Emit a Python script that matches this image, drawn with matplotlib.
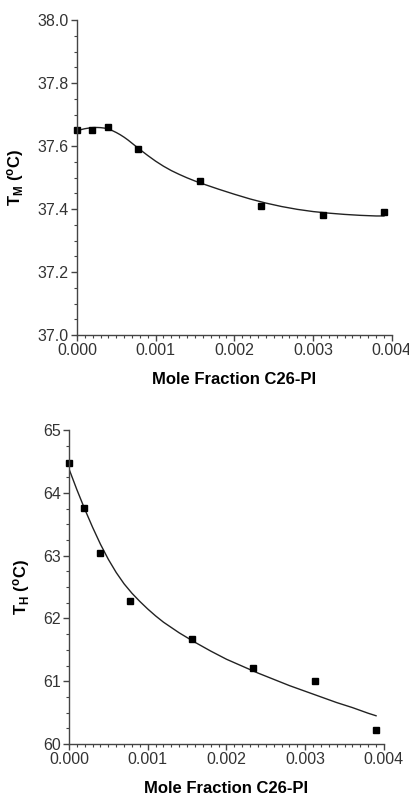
import matplotlib.pyplot as plt
from matplotlib.ticker import MultipleLocator, FormatStrFormatter

plt.rcParams['font.family'] = ['Liberation Sans', 'DejaVu Sans']
plt.rcParams['mathtext.fontset'] = 'custom'
plt.rcParams['mathtext.rm'] = 'Liberation Sans:bold'
plt.rcParams['mathtext.it'] = 'Liberation Sans:bold'
plt.rcParams['mathtext.bf'] = 'Liberation Sans:bold'

# measured points
mole_frac = [0.0, 0.000195, 0.00039, 0.00078, 0.00156, 0.00234, 0.00312, 0.0039]
tm = [37.65, 37.65, 37.66, 37.59, 37.49, 37.41, 37.38, 37.39]
th = [64.47, 63.76, 63.04, 62.27, 61.68, 61.21, 61.01, 60.23]

# fitted curves
fit_x_tm = [0.0, 0.00005, 0.0001, 0.00015, 0.0002, 0.00025, 0.0003, 0.00035,
            0.0004, 0.00045, 0.0005, 0.00055, 0.0006, 0.00065, 0.0007, 0.00075,
            0.0008, 0.0009, 0.001, 0.0011, 0.0012, 0.0013, 0.0014, 0.0015,
            0.0016, 0.0018, 0.002, 0.0022, 0.0024, 0.0026, 0.0028, 0.003,
            0.0032, 0.0034, 0.0036, 0.0038, 0.0039]
fit_tm = [37.649, 37.652, 37.655, 37.657, 37.6585, 37.659, 37.6585, 37.657,
          37.654, 37.649, 37.643, 37.636, 37.628, 37.619, 37.609, 37.599,
          37.589, 37.570, 37.552, 37.536, 37.522, 37.510, 37.499, 37.489,
          37.480, 37.463, 37.447, 37.432, 37.419, 37.408, 37.399, 37.392,
          37.387, 37.383, 37.380, 37.378, 37.378]
fit_x_th = [0.0, 0.0001, 0.0002, 0.0003, 0.0004, 0.0005, 0.0006, 0.0007,
            0.0008, 0.0009, 0.001, 0.0011, 0.0012, 0.0014, 0.0016, 0.0018,
            0.002, 0.0022, 0.0024, 0.0026, 0.0028, 0.003, 0.0032, 0.0034,
            0.0036, 0.0038, 0.0039]
fit_th = [64.38, 64.05, 63.74, 63.45, 63.18, 62.94, 62.73, 62.55,
          62.40, 62.27, 62.15, 62.04, 61.94, 61.77, 61.62, 61.48,
          61.35, 61.24, 61.13, 61.03, 60.93, 60.84, 60.75, 60.66,
          60.58, 60.49, 60.45]

fig = plt.figure(figsize=(4.09, 7.96), dpi=100)
ax1 = fig.add_axes([0.188, 0.5791, 0.770, 0.3957])
ax2 = fig.add_axes([0.1687, 0.0653, 0.770, 0.3945])


def style(ax, ymaj, ymin, yfmt):
    for s in ['top', 'right']:
        ax.spines[s].set_visible(False)
    for s in ['left', 'bottom']:
        ax.spines[s].set_color('#444444')
        ax.spines[s].set_linewidth(1.0)
    ax.set_xlim(0, 0.004)
    ax.xaxis.set_major_locator(MultipleLocator(0.001))
    ax.xaxis.set_minor_locator(MultipleLocator(0.0001))
    ax.xaxis.set_major_formatter(FormatStrFormatter('%.3f'))
    ax.yaxis.set_major_locator(MultipleLocator(ymaj))
    ax.yaxis.set_minor_locator(MultipleLocator(ymin))
    ax.yaxis.set_major_formatter(FormatStrFormatter(yfmt))
    ax.tick_params(which='major', length=4, width=1, color='#444444',
                   labelsize=11.5, labelcolor='#333333', pad=2)
    ax.tick_params(which='minor', length=2.5, width=0.8, color='#444444')
    ax.set_xlabel('Mole Fraction C26-PI', fontsize=12, fontweight='bold',
                  labelpad=10)


ax1.plot(fit_x_tm, fit_tm, color='#222222', lw=1.0)
ax1.plot(mole_frac, tm, 's', color='black', ms=3.8, clip_on=False)
ax1.set_ylim(37.0, 38.0)
style(ax1, 0.2, 0.05, '%.1f')
ax1.set_ylabel(r'T$_{\mathregular{M}}$ ($^{\mathregular{o}}$C)', fontsize=12,
               fontweight='bold', labelpad=8)

ax2.plot(fit_x_th, fit_th, color='#222222', lw=1.0)
ax2.plot(mole_frac, th, 's', color='black', ms=3.8, clip_on=False)
ax2.set_ylim(60, 65)
style(ax2, 1, 0.25, '%d')
ax2.set_ylabel(r'T$_{\mathregular{H}}$ ($^{\mathregular{o}}$C)', fontsize=12,
               fontweight='bold', labelpad=8)

fig.savefig('out.png', dpi=100)
